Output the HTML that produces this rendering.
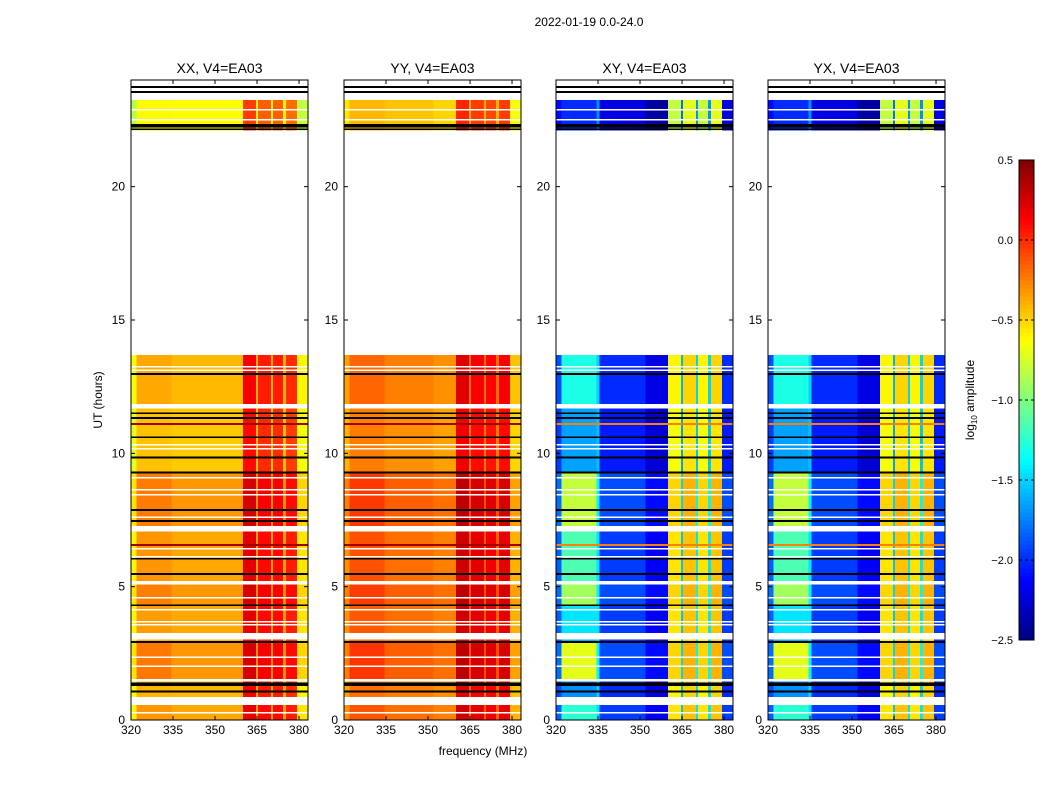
<!DOCTYPE html>
<html><head><meta charset="utf-8"><style>
body{margin:0;background:#fff;width:1050px;height:800px;overflow:hidden;font-family:"Liberation Sans",sans-serif}
svg text{font-family:"Liberation Sans",sans-serif}
</style></head><body>
<svg id="fig" width="1050" height="800" viewBox="0 0 1050 800" xmlns="http://www.w3.org/2000/svg">
<text x="589" y="26" font-size="12" text-anchor="middle">2022-01-19 0.0-24.0</text>
<text transform="translate(102,400) rotate(-90)" font-size="12" text-anchor="middle">UT (hours)</text>
<text x="483" y="755" font-size="12" text-anchor="middle">frequency (MHz)</text>
<g id="panels"></g>
<g id="cbar"></g>
</svg>
<script>
const panelTitles=["XX, V4=EA03","YY, V4=EA03","XY, V4=EA03","YX, V4=EA03"];
const panelLefts=[131,344,556,768];
const xTicks=[320,335,350,365,380];
const yTicks=[0,5,10,15,20];
const cbarTicks=[0.5,0.0,-0.5,-1.0,-1.5,-2.0,-2.5];
// frequency bands (MHz edges)
const bandEdges=[320,322,334.5,335.5,352,360,364.6,365.4,370,370.7,374.3,375.4,379.3,383.2];
// log10 amplitude per band, per panel
const bandXX=[-0.65,-0.42,-0.42,-0.42,-0.42,0.15,-0.4,0.05,-0.4,0.05,-0.4,0.0,-0.6];
const bandYY=[-0.35,-0.22,-0.24,-0.25,-0.3,0.22,-0.2,0.15,-0.2,0.12,-0.2,0.15,-0.45];
const bandXY=[-1.9,-1.9,-1.5,-2.0,-2.2,-0.6,-1.6,-0.5,-1.5,-0.6,-1.5,-0.5,-2.0];
const bandYX=[-1.9,-1.9,-1.5,-2.0,-2.2,-0.6,-1.6,-0.5,-1.5,-0.6,-1.5,-0.5,-2.0];
const bandVals=[bandXX,bandYY,bandXY,bandYX];
// time data segments: start hour, end hour, global offset, offset for 322-335 MHz
const segStart=[0,0.86,1.54,2.9,3.26,4.3,5.21,7.27,9.3,11.85,22.1];
const segEnd=[0.56,1.46,2.9,3.04,4.3,5.1,7.09,9.3,11.7,13.69,23.25];
const segOffset=[0.05,0,0.1,0,0.05,0.1,0.05,0.1,-0.05,0,-0.2];
const segLeft=[0.6,0.2,1.1,0.3,0.4,0.9,0.7,1.0,0.3,0.6,0.1];
const whiteLines=[0.26,1.46,2.0,2.35,3.04,3.56,3.68,4.12,4.57,5.1,5.15,6.11,6.41,7.09,7.2,7.6,8.44,8.62,9.07,10.16,10.31,11.7,11.78,13.1,13.24,22.5,22.87];
const blackLines=[1.07,1.3,1.36,2.92,4.3,5.47,6.04,7.46,7.87,9.28,9.84,10.6,11.32,11.5,12.97,22.15,22.25,22.32,23.55,23.73];
const flagLines=[6.56,11.1];
const NS="http://www.w3.org/2000/svg";
function mk(t,a,p){const e=document.createElementNS(NS,t);for(const k in a)e.setAttribute(k,a[k]);p.appendChild(e);return e;}
function jet(v){let t=(v+2.5)/3;t=Math.max(0,Math.min(1,t));const c=x=>Math.round(255*Math.max(0,Math.min(1,x)));return `rgb(${c(1.5-Math.abs(4*t-3))},${c(1.5-Math.abs(4*t-2))},${c(1.5-Math.abs(4*t-1))})`;}
const W=177,yTop=80,yBot=720;
const yS=h=>yBot-(h/24)*(yBot-yTop);
const panelsG=document.getElementById('panels');
panelTitles.forEach((title,p)=>{
  const L=panelLefts[p];const xS=f=>L+(f-320)/(383.2-320)*W;
  const g=mk('g',{},panelsG);
  
  
  const hm=mk('g',{'shape-rendering':'crispEdges'},g);
  
  
  segStart.forEach((s,i)=>{
    for(let b=0;b<bandEdges.length-1;b++){
      let v=bandVals[p][b]+segOffset[i];
      if(b===1) v+= (p>=2?segLeft[i]:segLeft[i]*0.08);
      const r=mk('rect',{x:xS(bandEdges[b]),y:yS(segEnd[i]),width:xS(bandEdges[b+1])-xS(bandEdges[b])+0.3,height:yS(segStart[i])-yS(segEnd[i]),fill:jet(v)},hm);
      
      
    }
  });
  whiteLines.forEach(h=>{const r=mk('rect',{x:L,y:yS(h)-1,width:W,height:1.5,fill:'#fff'},hm);
    
    });
  blackLines.forEach(h=>{const r=mk('rect',{x:L,y:yS(h)-1,width:W,height:1.8,fill:'#000'},hm);
    
    });
  flagLines.forEach(h=>{const r=mk('rect',{x:L,y:yS(h)-1,width:W,height:2,fill:p>=2?'#ff8000':'#a00000'},hm);
    
    });
  const fr=mk('rect',{x:L,y:yTop,width:W,height:yBot-yTop,fill:'none',stroke:'#000','stroke-width':1},g);
  
  
  const tt=mk('text',{x:L+W/2,y:73,'font-size':14,'text-anchor':'middle'},g);tt.textContent=title;
  
  
  xTicks.forEach(f=>{const x=xS(f);
    mk('line',{x1:x,x2:x,y1:yBot,y2:yBot-4,stroke:'#000'},g);mk('line',{x1:x,x2:x,y1:yTop,y2:yTop+4,stroke:'#000'},g);
    const t=mk('text',{x:x,y:yBot+14,'font-size':12,'text-anchor':'middle'},g);t.textContent=f;
    
    });
  yTicks.forEach(h=>{const y=yS(h);
    mk('line',{x1:L,x2:L+4,y1:y,y2:y,stroke:'#000'},g);mk('line',{x1:L+W,x2:L+W-4,y1:y,y2:y,stroke:'#000'},g);
    const t=mk('text',{x:L-6,y:y+4,'font-size':12,'text-anchor':'end'},g);t.textContent=h;
    
    });
});
// colorbar
const cb=document.getElementById('cbar');
const cT=160,cB=640,cL=1019,cW=15;
const cy=v=>cB-(v+2.5)/3*(cB-cT);
for(let i=0;i<120;i++){const v0=-2.5+3*i/120,v1=-2.5+3*(i+1)/120;
  mk('rect',{x:cL,y:cy(v1),width:cW,height:cy(v0)-cy(v1)+0.5,fill:jet((v0+v1)/2),'shape-rendering':'crispEdges'},cb);}
mk('rect',{x:cL,y:cT,width:cW,height:cB-cT,fill:'none',stroke:'#000'},cb);
cbarTicks.forEach(v=>{const y=cy(v);
  mk('line',{x1:cL,x2:cL+cW,y1:y,y2:y,stroke:'#000','stroke-dasharray':'3,3'},cb);
  const t=mk('text',{x:1013,y:y+4,'font-size':11,'text-anchor':'end'},cb);t.textContent=(v<0?'\u2212':'')+Math.abs(v).toFixed(1);
  
  });
const cl=mk('text',{transform:'translate(974,400) rotate(-90)','font-size':12,'text-anchor':'middle'},cb);
cl.innerHTML='log<tspan font-size="8" dy="3">10</tspan><tspan dy="-3"> amplitude</tspan>';


</script>
</body></html>
